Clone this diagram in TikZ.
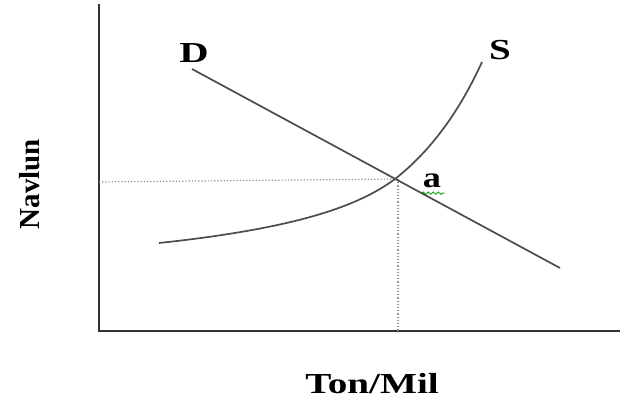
\documentclass[tikz,border=0pt]{standalone}
\usepackage{fontspec}
\setmainfont{Liberation Serif}
\usetikzlibrary{positioning,calc,decorations.pathmorphing}

\begin{document}
\begin{tikzpicture}[x=1pt, y=-1pt,
  axis/.style={draw=black!80, line width=2pt},
  curve/.style={draw=black!70, line width=1.7pt},
  guide/.style={draw=black!45, dotted, line width=1.2pt},
  lbl/.style={font=\fontsize{29}{30}\selectfont\bfseries, inner sep=0pt},
  wavy/.style={draw=green!60!black, line width=0.8pt, decorate, decoration={snake, amplitude=1.2pt, segment length=5pt}}
]
\useasboundingbox (0,0) rectangle (625,403);
% axes
\coordinate (top) at (99,4);
\coordinate (orig) at (99,331);
\coordinate (right) at (620,331);
\draw[axis] (top) -- (orig) -- (right);
% equilibrium point
\coordinate (eq) at (395,179);
\coordinate (eqy) at (99,182);
\coordinate (eqx) at (398,331);
\draw[guide] (eqy) -- (eq);
\draw[guide] (eq -| eqx) -- (eqx);
% demand
\coordinate (d0) at (192,69);
\coordinate (d1) at (560,268);
\draw[curve] (d0) -- (d1);
% supply
\coordinate (s0) at (159,243);
\coordinate (s1) at (482,62);
\draw[curve] (s0) .. controls (300,228) and (360,205) .. (eq) .. controls (432,150) and (460,110) .. (s1);
% labels
\node[lbl] (dlab) at (194,53) {\scalebox{1.4}[1]{D}};
\node[lbl] (slab) at (500,50) {\scalebox{1.35}[1]{S}};
\node[lbl] (alab) at (432,181) {\scalebox{1.25}[1]{a}};
\draw[wavy] ($(alab.south west)+(-1,5)$) -- ($(alab.south east)+(3,5)$);
\node[lbl, rotate=90] (ylab) at (30,184) {Navlun};
\node[lbl] (xlab) at (372,384) {\scalebox{1.35}[1]{Ton/Mil}};
\end{tikzpicture}
\end{document}
